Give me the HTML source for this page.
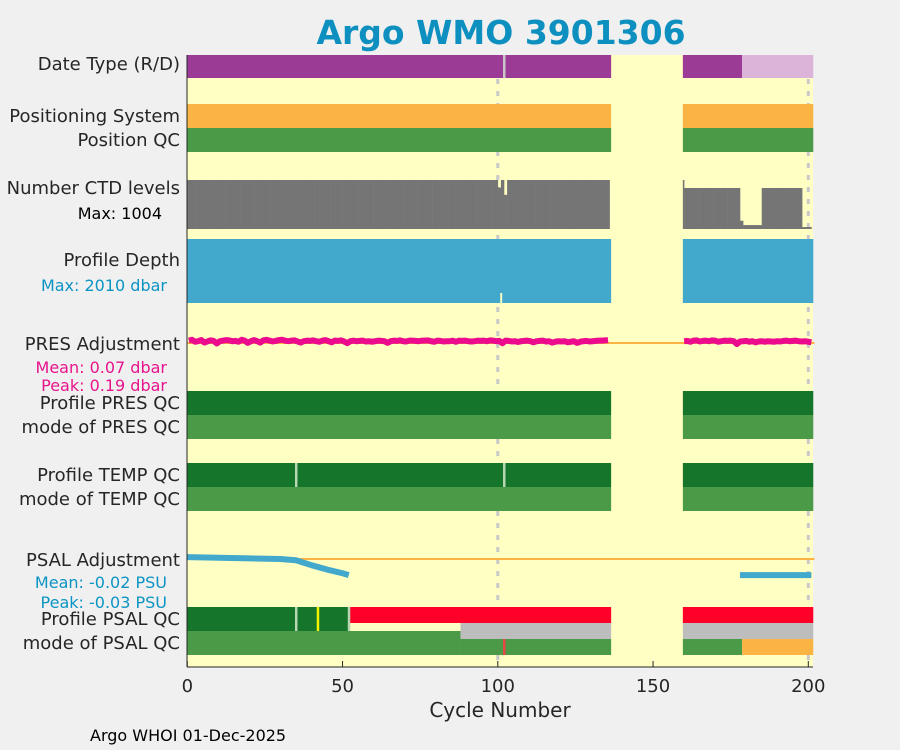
<!DOCTYPE html>
<html><head><meta charset="utf-8"><style>
body{margin:0;background:#f0f0f0;}
svg{display:block;font-family:"DejaVu Sans","Liberation Sans",sans-serif;}
</style></head><body>
<svg id="chart" width="900" height="750" viewBox="0 0 900 750">
<rect x="0" y="0" width="900" height="750" fill="#f0f0f0"/>
<text x="501" y="44" text-anchor="middle" font-size="33" font-weight="bold" fill="#0d8fbf">Argo WMO 3901306</text>
<rect x="187" y="55" width="626" height="612" fill="#ffffc3"/>
<g id="grid"></g>
<g id="marks"></g>
<g font-size="18" fill="#262626" text-anchor="end">
<text x="180" y="70">Date Type (R/D)</text>
<text x="180" y="122">Positioning System</text>
<text x="180" y="146">Position QC</text>
<text x="180" y="194">Number CTD levels</text>
<text x="162" y="219" font-size="16" fill="#000">Max: 1004</text>
<text x="180" y="266">Profile Depth</text>
<text x="167" y="291" font-size="16" fill="#0b94c4">Max: 2010 dbar</text>
<text x="180" y="350">PRES Adjustment</text>
<text x="167" y="373" font-size="16" fill="#e8148c">Mean: 0.07 dbar</text>
<text x="167" y="391" font-size="16" fill="#e8148c">Peak: 0.19 dbar</text>
<text x="180" y="409">Profile PRES QC</text>
<text x="180" y="433">mode of PRES QC</text>
<text x="180" y="481">Profile TEMP QC</text>
<text x="180" y="505">mode of TEMP QC</text>
<text x="180" y="566">PSAL Adjustment</text>
<text x="167" y="588" font-size="16" fill="#0b94c4">Mean: -0.02 PSU</text>
<text x="167" y="608" font-size="16" fill="#0b94c4">Peak: -0.03 PSU</text>
<text x="180" y="625">Profile PSAL QC</text>
<text x="180" y="649">mode of PSAL QC</text>
</g>
<g id="axes"></g>
<text x="500" y="717" text-anchor="middle" font-size="20" fill="#262626">Cycle Number</text>
<text x="90" y="741" font-size="16" fill="#000">Argo WHOI 01-Dec-2025</text>
</svg>
<script>
const xTicks = [0, 50, 100, 150, 200];
const dataRuns = [[0,136.5],[159.6,201.6]];
const dateTypeRuns = [[0,136.5,'#9b3b96'],[159.6,178.7,'#9b3b96'],[178.7,201.6,'#dcb4da']];
const ctdCycles = [100, 102, 160, 178, 179, 185, 198];
const ctdValues = [850, 700, 840, 170, 80, 840, 40];
const ctdDefault = 1004;
const psalCycles = [0, 10, 20, 30, 35, 40, 45, 50, 52];
const psalValues = [0.003, 0.002, 0.001, 0.0, -0.002, -0.01, -0.017, -0.023, -0.026];
const psalCycles2 = [178, 201];
const psalValues2 = [-0.026, -0.026];
const presA = [0.12,0.15,0.08,0.1,0.14,0.05,0.09,0.13,0.11,0.02,0.1,0.12,0.14,0.13,0.1,0.11,0.08,0.15,0.12,0.04,0.1,0.14,0.1,0.05,0.13,0.15,0.12,0.09,0.11,0.14,0.15,0.12,0.1,0.12,0.13,0.09,0.05,0.1,0.12,0.11,0.13,0.1,0.08,0.12,0.14,0.1,0.06,0.12,0.11,0.13,0.09,0.03,0.1,0.12,0.1,0.11,0.12,0.09,0.1,0.08,0.1,0.12,0.11,0.1,0.04,0.1,0.12,0.11,0.13,0.1,0.09,0.12,0.12,0.11,0.1,0.12,0.12,0.13,0.1,0.08,0.12,0.11,0.09,0.1,0.1,0.12,0.08,0.12,0.11,0.12,0.1,0.09,0.1,0.12,0.11,0.12,0.1,0.13,0.12,0.1,0.11,0.03,0.12,0.11,0.09,0.1,0.07,0.1,0.11,0.12,0.1,0.06,0.1,0.11,0.12,0.09,0.1,0.05,0.08,0.1,0.09,0.1,0.06,0.08,0.1,0.04,0.08,0.1,0.11,0.09,0.1,0.11,0.12,0.12,0.13,0.14];
const presB = [0.1,0.11,0.08,0.12,0.13,0.09,0.11,0.12,0.1,0.13,0.12,0.08,0.1,0.12,0.11,0.12,0.1,0.0,0.09,0.1,0.11,0.08,0.1,0.06,0.09,0.1,0.08,0.1,0.09,0.08,0.1,0.09,0.11,0.12,0.1,0.11,0.12,0.1,0.09,0.1,0.08,0.06];
const presStartB = 160;

const NS='http://www.w3.org/2000/svg';
const X0=187.3, PX=3.105;
function sx(c){return X0+c*PX;}
function el(tag, attrs, parent){const e=document.createElementNS(NS,tag);for(const k in attrs)e.setAttribute(k,attrs[k]);parent.appendChild(e);return e;}
const grid=document.getElementById('grid'), marks=document.getElementById('marks'), axes=document.getElementById('axes');

[100,200].forEach(c=>{
  const l=el('line',{x1:sx(c),x2:sx(c),y1:55,y2:667,stroke:'#c8c8c8','stroke-width':3,'stroke-dasharray':'5 7'},grid);
  
  
});

function band(c0,c1,y,h,color,name){
  const r=el('rect',{x:sx(c0),y:y,width:sx(c1)-sx(c0),height:h,fill:color},marks);
  
  
  return r;
}
function gapLine(c,y,h,color){
  const r=el('rect',{x:sx(c)-1,y:y,width:2.5,height:h,fill:color},marks);
  
  
}
dateTypeRuns.forEach(r=>band(r[0],r[1],55,23,r[2],'date-type-bar'));
gapLine(102,55,23,'#c8c8c8');
dataRuns.forEach(r=>{
  band(r[0],r[1],104,24,'#fbb443','positioning-system-bar');
  band(r[0],r[1],128,24,'#4a9a48','position-qc-bar');
  band(r[0],r[1],391,24,'#15762b','pres-qc-bar');
  band(r[0],r[1],415,24,'#4a9a48','pres-qc-mode-bar');
  band(r[0],r[1],463,24,'#15762b','temp-qc-bar');
  band(r[0],r[1],487,24,'#4a9a48','temp-qc-mode-bar');
  band(r[0],r[1],239,64,'#42a8cc','profile-depth-bar');
});
gapLine(35,463,24,'#b5d6b0');gapLine(102,463,24,'#b5d6b0');
// CTD levels bars
dataRuns.forEach(r=>{
  for(let c=Math.floor(r[0]);c<Math.floor(r[1]);c++){
    const i=ctdCycles.indexOf(c);
    let v=ctdDefault;
    if(i>=0)v=ctdValues[i];
    else if(c>160&&c<178)v=840; else if(c>179&&c<185)v=80; else if(c>185&&c<198)v=840; else if(c>198)v=40;
    const h=v/ctdDefault*49;
    const x0=Math.max(sx(c),sx(r[0]));
    const b=el('rect',{x:x0,y:229-h,width:Math.min(sx(c+1),sx(r[1]))-x0+0.3,height:h,fill:'#757575'},marks);
    
    
  }
});
band(100.8,101.4,293,10,'#ffffc3','depth-gap');
// PRES adjustment
const py=v=>344-v*28;
const z1=el('line',{x1:sx(0),x2:sx(202),y1:343,y2:343,stroke:'#fbb443','stroke-width':2},marks);

function poly(xs,ys,color,w,name){
  const p=el('polyline',{points:xs.map((x,i)=>sx(x)+','+ys[i]).join(' '),fill:'none',stroke:color,'stroke-width':w,'stroke-linejoin':'round'},marks);
  
}
poly(presA.map((v,i)=>i+0.5),presA.map(py),'#ec0b8c',6,'pres-adjustment-line');
poly(presB.map((v,i)=>presStartB+i),presB.map(py),'#ec0b8c',6,'pres-adjustment-line-2');
// PSAL adjustment
const sy=v=>559-v*620;
const z2=el('line',{x1:sx(0),x2:sx(202),y1:sy(0),y2:sy(0),stroke:'#fbb443','stroke-width':2},marks);

poly(psalCycles,psalValues.map(sy),'#42a8cc',6,'psal-adjustment-line');
poly(psalCycles2,psalValues2.map(sy),'#42a8cc',6,'psal-adjustment-line-2');
// PSAL QC
band(0,52,607,24,'#15762b','psal-qc-good');
band(52,136.5,607,16,'#ff0029','psal-qc-bad');
band(159.6,201.6,607,16,'#ff0029','psal-qc-bad-2');
band(0,88,631,24,'#4a9a48','psal-qc-mode-good');
band(88,136.5,623,16,'#bdbdbd','psal-qc-gray');
band(88,136.5,639,16,'#4a9a48','psal-qc-mode-good-2');
band(159.6,201.6,623,16,'#bdbdbd','psal-qc-gray-2');
band(159.6,178.7,639,16,'#4a9a48','psal-qc-mode-good-3');
band(178.7,201.6,639,16,'#fbb443','psal-qc-mode-probable');
gapLine(35,607,24,'#b5d6b0');gapLine(52,607,24,'#b5d6b0');gapLine(42,607,24,'#f2f200');
gapLine(102,639,16,'#e8474a');
// axes
const la=el('line',{x1:187,x2:187,y1:55,y2:667,stroke:'#262626','stroke-width':1},axes);

const ba=el('line',{x1:187,x2:813,y1:667,y2:667,stroke:'#262626','stroke-width':1},axes);

xTicks.forEach(t=>{
  const tk=el('line',{x1:sx(t),x2:sx(t),y1:667,y2:661,stroke:'#262626','stroke-width':1},axes);
  
  const tx=el('text',{x:sx(t),y:692,'text-anchor':'middle','font-size':18,fill:'#262626'},axes);
  tx.textContent=t;
  
});
</script>
</body></html>
